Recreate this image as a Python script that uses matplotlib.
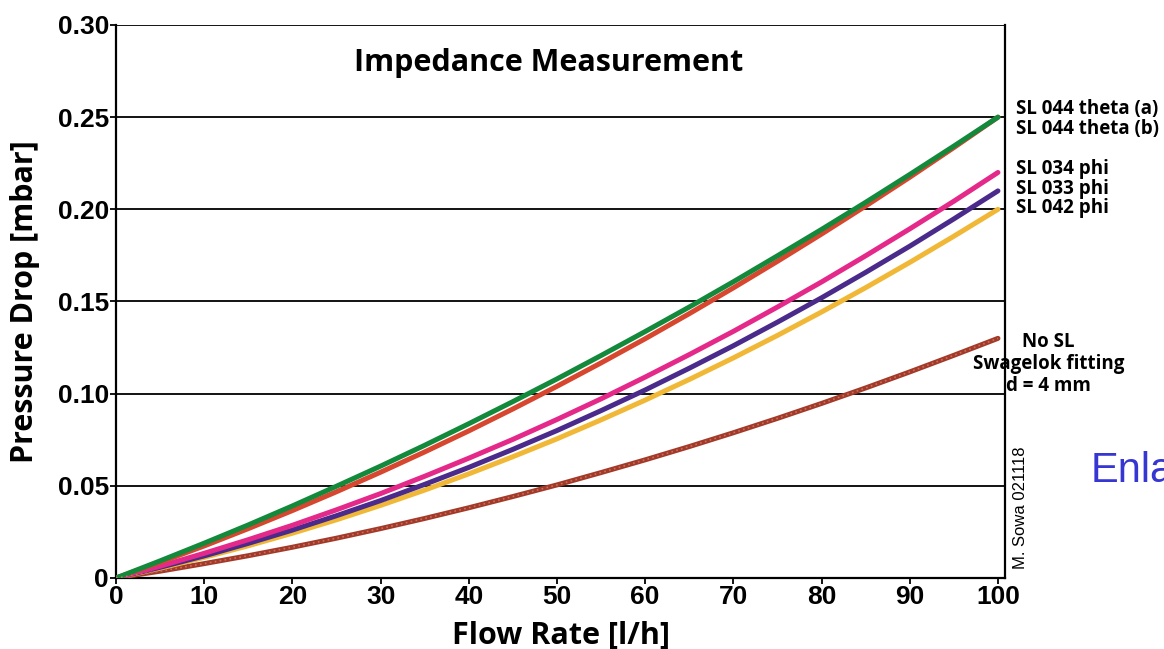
import matplotlib.pyplot as plt
from matplotlib.ticker import FuncFormatter
import numpy as np

# flow rate [l/h]
flow = [0, 5, 10, 15, 20, 25, 30, 35, 40, 45, 50, 55, 60, 65, 70, 75, 80, 85, 90, 95, 100]

# pressure drop [mbar]
theta_a = [0, 0.0093, 0.0189, 0.0288, 0.0391, 0.0498, 0.0607, 0.0720, 0.0837, 0.0957, 0.1080,
           0.1207, 0.1337, 0.1470, 0.1607, 0.1748, 0.1891, 0.2038, 0.2189, 0.2343, 0.2500]
theta_b = [0, 0.0085, 0.0174, 0.0268, 0.0366, 0.0468, 0.0574, 0.0684, 0.0798, 0.0917, 0.1040,
           0.1167, 0.1298, 0.1434, 0.1574, 0.1718, 0.1866, 0.2018, 0.2174, 0.2335, 0.2500]
phi_034 = [0, 0.0064, 0.0134, 0.0208, 0.0286, 0.0370, 0.0458, 0.0552, 0.0650, 0.0752, 0.0860,
           0.0972, 0.1090, 0.1212, 0.1338, 0.1470, 0.1606, 0.1748, 0.1894, 0.2044, 0.2200]
phi_033 = [0, 0.0058, 0.0120, 0.0188, 0.0260, 0.0338, 0.0420, 0.0508, 0.0600, 0.0698, 0.0800,
           0.0908, 0.1020, 0.1138, 0.1260, 0.1388, 0.1520, 0.1658, 0.1800, 0.1948, 0.2100]
phi_042 = [0, 0.0053, 0.0112, 0.0175, 0.0243, 0.0316, 0.0394, 0.0477, 0.0565, 0.0658, 0.0755,
           0.0858, 0.0965, 0.1077, 0.1194, 0.1316, 0.1443, 0.1575, 0.1712, 0.1854, 0.2000]
no_sl = [0, 0.0037, 0.0078, 0.0121, 0.0167, 0.0216, 0.0268, 0.0323, 0.0381, 0.0442, 0.0505,
         0.0572, 0.0641, 0.0713, 0.0788, 0.0866, 0.0947, 0.1031, 0.1118, 0.1208, 0.1300]

series = [no_sl, phi_042, phi_033, phi_034, theta_b, theta_a]
colors = ['#a33a29', '#f0b836', '#4a2a8a', '#e4298a', '#d7462f', '#13893b']

right_labels = ['SL 044 theta (a)', 'SL 044 theta (b)', 'SL 034 phi', 'SL 033 phi', 'SL 042 phi']
right_label_y = [0.2545, 0.2437, 0.2220, 0.2112, 0.2008]

label_font = 'Open Sans'

fig = plt.figure(figsize=(11.64, 6.49), dpi=100)
ax = fig.add_axes([0.0997, 0.1094, 0.7637, 0.8521])

for vals, c in zip(series, colors):
    ax.plot(flow, vals, color=c, lw=3.6, solid_capstyle='round', zorder=3)
# light dotted edge on the No SL curve
ax.plot(flow, no_sl, color='#c8705f', lw=1.2, ls=(0, (1, 2)), zorder=4)

ax.set_xlim(0, 100.8)
ax.set_ylim(0, 0.30)
ax.set_xticks(np.arange(0, 101, 10))
ax.set_yticks(np.arange(0, 0.301, 0.05))
ax.yaxis.set_major_formatter(FuncFormatter(lambda v, p: '0' if abs(v) < 1e-9 else '%.2f' % v))
ax.grid(True, axis='y', color='k', lw=1.3)
ax.set_axisbelow(True)
for s in ['left', 'bottom', 'right']:
    ax.spines[s].set_linewidth(1.6)
ax.spines['top'].set_visible(False)
ax.tick_params(axis='both', direction='out', length=4, width=1.3, pad=1)
for lab in ax.get_xticklabels() + ax.get_yticklabels():
    lab.set_fontfamily('Liberation Sans')
    lab.set_fontweight('bold')
    lab.set_fontsize(19)

ax.set_xlabel('Flow Rate [l/h]', fontsize=22, fontweight='bold', fontfamily=label_font, labelpad=8)
ax.set_ylabel('Pressure Drop [mbar]', fontsize=22, fontweight='bold', fontfamily=label_font, labelpad=13)

ax.text(49.0, 0.2795, 'Impedance Measurement', ha='center', va='center',
        fontsize=22, fontweight='bold', fontfamily=label_font)

for txt, yv in zip(right_labels, right_label_y):
    ax.text(102.1, yv, txt, ha='left', va='center', fontsize=13.5,
            fontweight='bold', fontfamily=label_font, clip_on=False)

ax.text(105.7, 0.1160, 'No SL\nSwagelok fitting\nd = 4 mm', ha='center', va='center',
        fontsize=13.5, fontweight='bold', fontfamily=label_font, linespacing=1.15, clip_on=False)

fig.text(0.877, 0.217, 'M. Sowa 021118', rotation=90, ha='center', va='center',
         fontsize=12, fontfamily='Liberation Sans')
fig.text(0.937, 0.275, 'Enla', ha='left', va='center', fontsize=30,
         fontfamily='Liberation Sans', color='#3636d2')

plt.savefig('out.png', dpi=100)
